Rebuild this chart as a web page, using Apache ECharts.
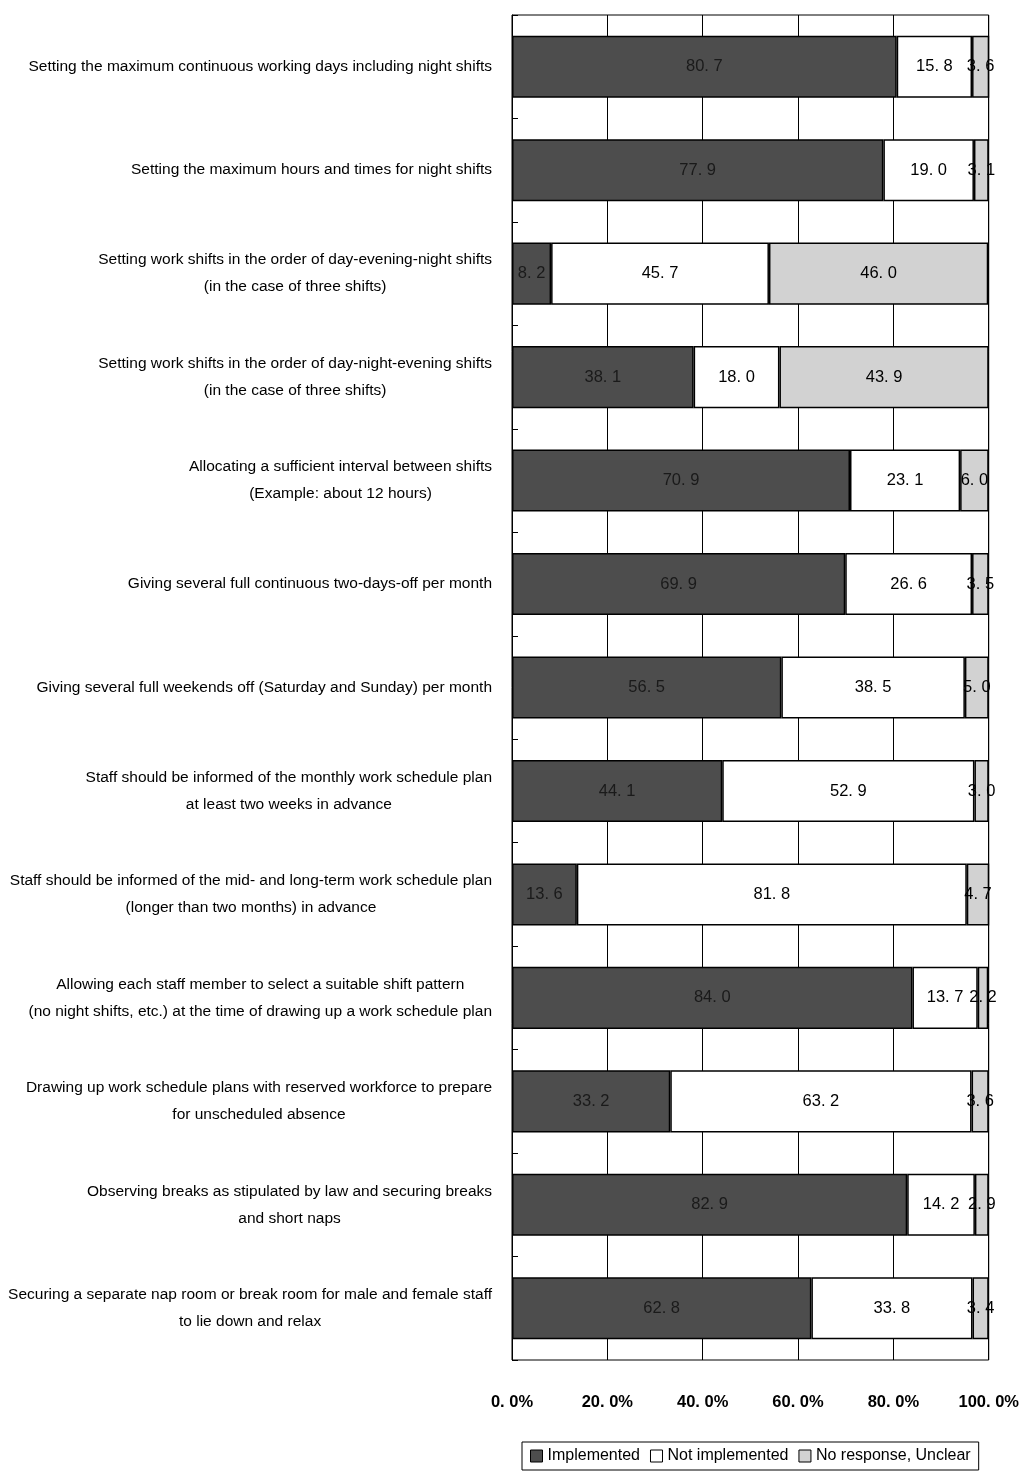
<!DOCTYPE html>
<html><head><meta charset="utf-8">
<script src="https://cdn.jsdelivr.net/npm/echarts@6/dist/echarts.min.js"></script>
<style>html,body{margin:0;padding:0;background:#fff}#c{width:1022px;height:1472px}</style>
</head><body><div id="c"></div>
<script>
const categories = [
  "Setting the maximum continuous working days including night shifts",
  "Setting the maximum hours and times for night shifts",
  "Setting work shifts in the order of day-evening-night shifts\n(in the case of three shifts)",
  "Setting work shifts in the order of day-night-evening shifts\n(in the case of three shifts)",
  "Allocating a sufficient interval between shifts\n(Example: about 12 hours)",
  "Giving several full continuous two-days-off per month",
  "Giving several full weekends off (Saturday and Sunday) per month",
  "Staff should be informed of the monthly work schedule plan\nat least two weeks in advance",
  "Staff should be informed of the mid- and long-term work schedule plan\n(longer than two months) in advance",
  "Allowing each staff member to select a suitable shift pattern\n(no night shifts, etc.) at the time of drawing up a work schedule plan",
  "Drawing up work schedule plans with reserved workforce to prepare\nfor unscheduled absence",
  "Observing breaks as stipulated by law and securing breaks\nand short naps",
  "Securing a separate nap room or break room for male and female staff\nto lie down and relax"
];
const implemented =    [80.7, 77.9, 8.2, 38.1, 70.9, 69.9, 56.5, 44.1, 13.6, 84.0, 33.2, 82.9, 62.8];
const notImplemented = [15.8, 19.0, 45.7, 18.0, 23.1, 26.6, 38.5, 52.9, 81.8, 13.7, 63.2, 14.2, 33.8];
const noResponse =     [3.6, 3.1, 46.0, 43.9, 6.0, 3.5, 5.0, 3.0, 4.7, 2.2, 3.6, 2.9, 3.4];
const seriesNames = ["Implemented", "Not implemented", "No response, Unclear"];
const xTicks = [0, 20, 40, 60, 80, 100];

const fmt = v => v.toFixed(1).replace('.', '. ');
const numFont = '"Liberation Sans", Arial, sans-serif';
const txtFont = '"Liberation Sans", Arial, sans-serif';

const chart = echarts.init(document.getElementById('c'), null, {renderer: 'canvas'});
function mk(name, data, color, labelColor) {
  return {
    name, type: 'bar', stack: 'a', data, barWidth: '60%',
    itemStyle: {color, borderColor: '#000', borderWidth: 1.5},
    label: {show: true, position: 'inside', color: labelColor, fontFamily: numFont, fontSize: 16.5,
      formatter: p => fmt(p.value)},
    emphasis: {disabled: true}, animation: false
  };
}
chart.setOption({
  animation: false,
  backgroundColor: '#fff',
  grid: {left: 512, right: 30, top: 15, bottom: 112, show: true, borderColor: '#000', borderWidth: 1, containLabel: false},
  xAxis: {
    type: 'value', min: 0, max: 100, interval: 20,
    axisLine: {show: false}, axisTick: {show: false},
    splitLine: {show: true, lineStyle: {color: '#000', width: 1}},
    axisLabel: {margin: 34, color: '#000', fontFamily: numFont, fontSize: 16.5, fontWeight: 'bold',
      formatter: v => fmt(v) + '%'}
  },
  yAxis: {
    type: 'category', data: categories, inverse: true,
    axisLine: {show: true, lineStyle: {color: '#000', width: 1}},
    axisTick: {show: true, inside: true, length: 6, lineStyle: {color: '#000'}},
    axisLabel: {margin: 20, color: '#000', fontFamily: txtFont, fontSize: 15.5, lineHeight: 27, align: 'right',
      formatter: v => v.split('\n').map(s => '{c|' + s + '}').join('\n'),
      rich: {c: {align: 'center', fontFamily: txtFont, fontSize: 15.5, lineHeight: 27, color: '#000'}}}
  },
  legend: {
    bottom: 2, left: 522, icon: 'rect', itemWidth: 12, itemHeight: 12, itemGap: 10,
    borderColor: '#000', borderWidth: 1, padding: [6, 8, 6, 8],
    textStyle: {fontFamily: txtFont, fontSize: 16, color: '#000'},
    data: seriesNames.map(n => ({name: n, itemStyle: {borderColor: '#000', borderWidth: 1}}))
  },
  series: [
    mk(seriesNames[0], implemented, '#4d4d4d', '#1a1a1a'),
    mk(seriesNames[1], notImplemented, '#ffffff', '#000'),
    mk(seriesNames[2], noResponse, '#d2d2d2', '#000')
  ]
});
</script></body></html>
